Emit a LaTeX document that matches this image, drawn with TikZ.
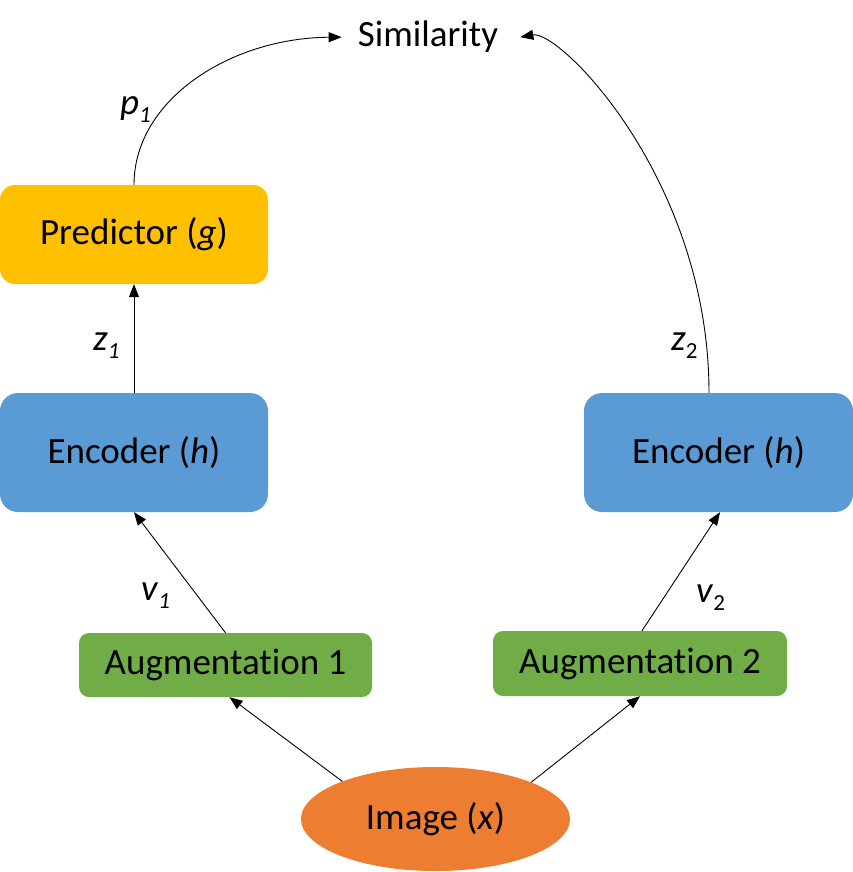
\documentclass[tikz,border=0pt]{standalone}
\usepackage{fontspec}
\setmainfont{Carlito}[Ligatures={NoCommon,NoRare,NoContextual}]
\usetikzlibrary{arrows.meta,shapes.geometric}
\definecolor{cyellow}{HTML}{FFC000}
\definecolor{cblue}{HTML}{5B9BD5}
\definecolor{cgreen}{HTML}{70AD47}
\definecolor{corange}{HTML}{ED7D31}
\newcommand{\subs}[1]{\raisebox{-8pt}{\fontsize{23}{23}\selectfont #1}}
\begin{document}
\begin{tikzpicture}[x=1pt,y=-1pt,
  font=\fontsize{37}{44}\selectfont,
  box/.style={rectangle, inner sep=0pt, text=black, draw=none},
  conn/.style={-{Triangle[length=13pt,width=10pt]}, line width=0.9pt},
  lab/.style={inner sep=0pt, anchor=base west}]
\useasboundingbox (0,0) rectangle (853,872);

\node[box, fill=cyellow, rounded corners=15pt, minimum width=268pt, minimum height=99pt] (pred) at (134,234.5) {Predictor (\textit{g})};
\node[box, fill=cblue, rounded corners=18pt, minimum width=268pt, minimum height=119pt] (enc1) at (134,452.5) {Encoder (\textit{h})};
\node[box, fill=cblue, rounded corners=18pt, minimum width=269pt, minimum height=119pt] (enc2) at (718.5,452.5) {Encoder (\textit{h})};
\node[box, fill=cgreen, rounded corners=10pt, minimum width=293pt, minimum height=64pt] (aug1) at (225.5,665) {Augmentation 1};
\node[box, fill=cgreen, rounded corners=10pt, minimum width=294pt, minimum height=65pt] (aug2) at (640,663.5) {Augmentation 2};
\node[ellipse, fill=corange, inner sep=0pt, minimum width=269pt, minimum height=104pt] (img) at (435.5,819) {Image (\textit{x})};
\node[inner sep=0pt, anchor=base] (sim) at (428,47) {Similarity};

\node[lab] (lp1) at (120,115) {\textit{p}\subs{\textit{1}}};
\node[lab] (lz1) at (93,350) {\textit{z}\subs{\textit{1}}};
\node[lab] (lz2) at (671,350) {\textit{z}\subs{2}};
\node[lab] (lv1) at (141,600) {\textit{v}\subs{\textit{1}}};
\node[lab] (lv2) at (696,602) {\textit{v}\subs{2}};

\draw[conn] (img.158.8) -- ([xshift=4pt]aug1.south);
\draw[conn] (img.21.2) -- (aug2.south);
\draw[conn] (aug1.north) -- (enc1.south);
\draw[conn] ([xshift=2pt]aug2.north) -- ([xshift=1.5pt]enc2.south);
\draw[conn] (enc1.north) -- (pred.south);
\draw[conn] (pred.north) .. controls (134,100) and (230,38) .. ([xshift=-16pt]sim.west);
\draw[conn] ([xshift=-9.5pt]enc2.north) .. controls (709,180) and (560,30) .. ([xshift=22pt]sim.east);
\end{tikzpicture}
\end{document}
